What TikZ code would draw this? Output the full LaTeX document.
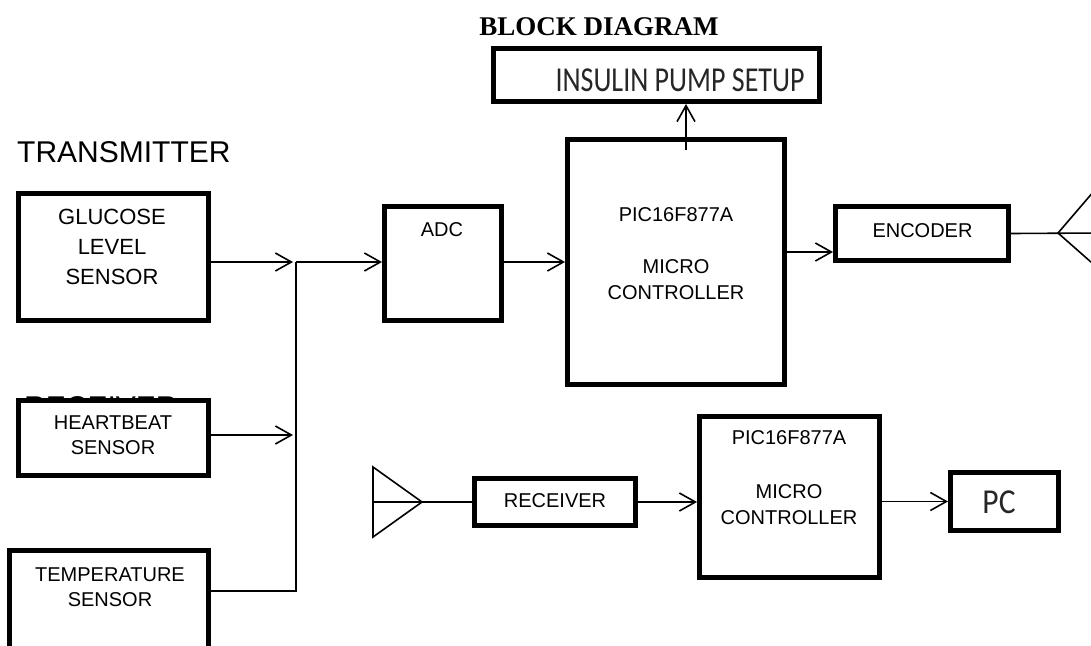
\documentclass[tikz,border=0pt]{standalone}
\usepackage{fontspec}
\setmainfont{Liberation Sans}
\newfontfamily\calfont{Carlito}
\newfontfamily\seriffont{Liberation Serif}
\usetikzlibrary{arrows.meta}

\tikzset{
  blk/.style={draw, line width=5pt, inner sep=0pt, fill=white},
  lbl/.style={align=center, inner sep=0pt, font=\fontsize{20}{26}\selectfont},
  arr/.style={line width=1.6pt, -{Straight Barb[length=16pt,width=18pt]}},
  wire/.style={line width=1.6pt},
}

\begin{document}
\begin{tikzpicture}[x=1pt, y=-1pt]
  \useasboundingbox (0,0) rectangle (1091,645);
  \clip (0,0) rectangle (1091,645);
  \node[font=\seriffont\bfseries\fontsize{27}{32}\selectfont] (title) at (599,27) {BLOCK DIAGRAM};
  \node[anchor=base west, inner sep=0pt, font=\fontsize{30}{36}\selectfont] (txlbl) at (17,162) {TRANSMITTER};
  \node[anchor=base west, inner sep=0pt, font=\fontsize{30}{36}\selectfont] (rxlbl) at (24,417.5) {RECEIVER};
  % blocks
  \node[blk, minimum width=325.5pt, minimum height=53pt] (ins) at (656.25,75) {};
  \node[blk, minimum width=190pt, minimum height=127pt] (glu) at (113.5,257) {};
  \node[blk, minimum width=190pt, minimum height=75pt] (hb) at (113.5,438) {};
  \node[blk, minimum width=199pt, minimum height=99pt] (tmp) at (109,600) {};
  \node[blk, minimum width=117pt, minimum height=114pt] (adc) at (443,263.5) {};
  \node[blk, minimum width=216.5pt, minimum height=245pt] (mc) at (675.75,262) {};
  \node[blk, minimum width=173pt, minimum height=54pt] (enc) at (922,233.5) {};
  \node[blk, minimum width=161pt, minimum height=47pt] (rx) at (555,502) {};
  \node[blk, minimum width=180pt, minimum height=161pt] (mc2) at (789.5,497) {};
  \node[blk, minimum width=108pt, minimum height=58pt] (pc) at (1004.5,501.5) {};
  % texts
  \node[inner sep=0pt, text=black!85, font=\calfont\fontsize{35}{40}\selectfont] (instxt) at (680,80) {\scalebox{0.8}[1]{INSULIN PUMP SETUP}};
  \node[lbl, font=\fontsize{22}{30}\selectfont] (glutxt) at (112,247) {GLUCOSE\\LEVEL\\SENSOR};
  \node[lbl, font=\fontsize{20}{25}\selectfont] (hbtxt) at (113,435.5) {HEARTBEAT\\SENSOR};
  \node[lbl, font=\fontsize{20}{25}\selectfont] (tmptxt) at (110,587.5) {TEMPERATURE\\SENSOR};
  \node[lbl] (adctxt) at (442,230) {ADC};
  \node[lbl] (mctxt) at (676,254) {PIC16F877A\\[26pt]MICRO\\CONTROLLER};
  \node[lbl] (enctxt) at (922.5,231) {ENCODER};
  \node[lbl] (rxtxt) at (555,501) {RECEIVER};
  \node[lbl] (mc2txt) at (789,478) {PIC16F877A\\[28pt]MICRO\\CONTROLLER};
  \node[inner sep=0pt, text=black!85, font=\calfont\fontsize{35}{40}\selectfont] (pctxt) at (999,502) {\scalebox{0.9}[1]{PC}};
  % connectors
  \coordinate (j1) at (296,262);
  \coordinate (j2) at (296,435);
  \coordinate (j3) at (296,591);
  \draw[arr] (glu.east |- j1) -- ([xshift=-3pt]j1);
  \draw[arr] (hb.east |- j2) -- ([xshift=-3pt]j2);
  \draw[wire] (tmp.east |- j3) -- (j3) -- (j1);
  \draw[arr] (j1) -- (adc.west |- j1);
  \draw[arr] (adc.east |- mc.west) -- (mc.west);
  \coordinate (mcup) at (686,150);
  \draw[arr] (mcup) -- (ins.south -| mcup);
  \coordinate (encin) at ([yshift=-18.5pt]enc.west);
  \draw[arr] (mc.east |- encin) -- (encin);
  % transmitting antenna
  \coordinate (antT) at (1058,233);
  \draw[wire] (enc.east) -- (1100,233);
  \draw[wire] (1100,184) -- (antT) -- (1100,270);
  % receiving antenna
  \coordinate (antR) at (422,502);
  \draw[wire] (373,467) -- (antR) -- (373,537) -- cycle;
  \draw[wire] (373,502) -- (rx.west);
  \draw[arr] (rx.east) -- (mc2.west |- rx.east);
  \draw[arr] (mc2.east |- pc.west) -- (pc.west);
\end{tikzpicture}
\end{document}
